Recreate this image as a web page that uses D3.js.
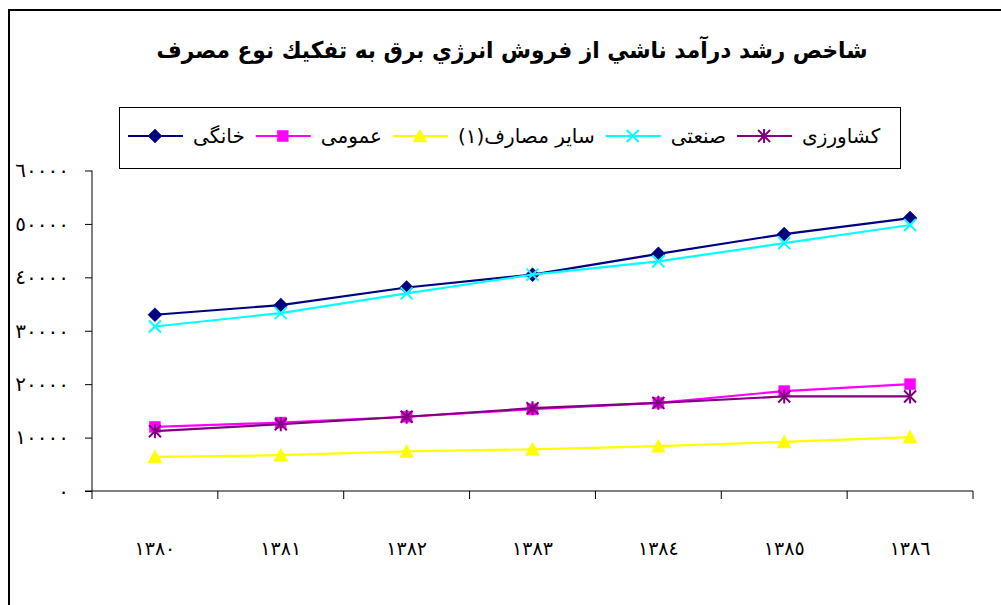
<!DOCTYPE html>
<html>
<head>
<meta charset="utf-8">
<script src="https://cdn.jsdelivr.net/npm/d3@7"></script>
<style>
  body { margin: 0; background: #fff; }
  svg { display: block; }
  text { font-family: "DejaVu Sans", "Liberation Serif", serif; }
</style>
</head>
<body>
<div id="chart"></div>
<script>
var years = ["١٣٨٠", "١٣٨١", "١٣٨٢", "١٣٨٣", "١٣٨٤", "١٣٨٥", "١٣٨٦"];

// series values
var khanegi    = [33000, 34800, 38100, 40500, 44400, 48100, 51100];
var omumi      = [12000, 12800, 13900, 15300, 16500, 18700, 20000];
var sayer      = [6400, 6700, 7400, 7800, 8400, 9200, 10100];
var sanati     = [30800, 33300, 37000, 40500, 43000, 46400, 49800];
var keshavarzi = [11200, 12500, 13900, 15500, 16500, 17700, 17700];

var yTicks = [0, 10000, 20000, 30000, 40000, 50000, 60000];
var title = "شاخص رشد درآمد ناشي از فروش انرژي برق به تفكيك نوع مصرف";

var series = [
    { name: "خانگی", values: khanegi, color: "#000080", marker: "diamond" },
    { name: "عمومی", values: omumi, color: "#ff00ff", marker: "square" },
    { name: "سایر مصارف(۱)", values: sayer, color: "#ffff00", marker: "triangle" },
    { name: "صنعتی", values: sanati, color: "#00ffff", marker: "cross" },
    { name: "کشاورزی", values: keshavarzi, color: "#800080", marker: "star" }
];

var width = 1001, height = 605;
var svg = d3.select("#chart").append("svg")
    .attr("width", width)
    .attr("height", height);

// outer frame (runs off the right and bottom edges)
svg.append("rect")
    .attr("x", 9).attr("y", 10)
    .attr("width", 1010).attr("height", 620)
    .attr("fill", "none")
    .attr("stroke", "#000")
    .attr("stroke-width", 2);

svg.append("text")
    .attr("x", 512).attr("y", 58)
    .attr("text-anchor", "middle")
    .attr("font-size", 23)
    .attr("font-weight", "bold")
    .attr("textLength", 711)
    .attr("lengthAdjust", "spacingAndGlyphs")
    .text(title);

var x = d3.scalePoint().domain(years).range([92, 973]).padding(0.5);
var y = d3.scaleLinear().domain([0, 60000]).range([491, 170.5]);

function toArabic(n) {
    return String(n).replace(/[0-9]/g, function(c) { return "٠١٢٣٤٥٦٧٨٩"[+c]; });
}

// y axis
var yAxis = svg.append("g")
    .attr("transform", "translate(92,0)")
    .call(d3.axisLeft(y).tickValues(yTicks).tickSize(7).tickPadding(16).tickFormat(toArabic));
yAxis.select(".domain").attr("stroke", "#000").attr("d", "M0," + y(0) + "V" + y(60000));
yAxis.selectAll(".tick line").attr("stroke", "#000");
yAxis.selectAll(".tick text")
    .attr("font-size", 20)
    .attr("fill", "#000")
    .style("letter-spacing", "1.5px")
    .style("font-family", "DejaVu Sans, serif");

// x axis
var xAxis = svg.append("g")
    .attr("transform", "translate(0,491)");
xAxis.append("line")
    .attr("x1", 85).attr("x2", 973)
    .attr("y1", 0).attr("y2", 0)
    .attr("stroke", "#000");
var step = x.step();
xAxis.selectAll("line.tk")
    .data(d3.range(years.length + 1))
    .enter()
    .append("line")
    .attr("class", "tk")
    .attr("x1", function(i) { return 92 + i * step; })
    .attr("x2", function(i) { return 92 + i * step; })
    .attr("y1", 0).attr("y2", 8)
    .attr("stroke", "#000");
xAxis.selectAll("text")
    .data(years)
    .enter()
    .append("text")
    .attr("x", function(d) { return x(d); })
    .attr("y", 64)
    .attr("text-anchor", "middle")
    .attr("font-size", 19)
    .text(function(d) { return d; });

function markerPath(type) {
    if (type == "diamond") return "M0,-7L7,0L0,7L-7,0Z";
    if (type == "square") return "M-5.5,-5.5H5.5V5.5H-5.5Z";
    if (type == "triangle") return "M0,-7L7,6H-7Z";
    if (type == "cross") return "M-6,-6L6,6M6,-6L-6,6";
    return "M-6,-6L6,6M6,-6L-6,6M0,-7V7";
}

function drawMarker(g, s, cx, cy) {
    var filled = (s.marker == "diamond" || s.marker == "square" || s.marker == "triangle");
    g.append("path")
        .attr("transform", "translate(" + cx + "," + cy + ")")
        .attr("d", markerPath(s.marker))
        .attr("fill", filled ? s.color : "none")
        .attr("stroke", s.color)
        .attr("stroke-width", filled ? 0.5 : 2);
}

var line = d3.line()
    .x(function(d, i) { return x(years[i]); })
    .y(function(d) { return y(d); });

series.forEach(function(s) {
    var g = svg.append("g");
    g.append("path")
        .attr("d", line(s.values))
        .attr("fill", "none")
        .attr("stroke", s.color)
        .attr("stroke-width", 2.2);
    s.values.forEach(function(v, i) {
        drawMarker(g, s, x(years[i]), y(v));
    });
});

// legend
var legend = svg.append("g");
legend.append("rect")
    .attr("x", 119.5).attr("y", 107.5)
    .attr("width", 781).attr("height", 61)
    .attr("fill", "#fff")
    .attr("stroke", "#000");

var lx = 128, ly = 136;
series.forEach(function(s) {
    var g = legend.append("g");
    g.append("line")
        .attr("x1", lx).attr("x2", lx + 55)
        .attr("y1", ly).attr("y2", ly)
        .attr("stroke", s.color)
        .attr("stroke-width", 2.2);
    drawMarker(g, s, lx + 27, ly);
    var t = g.append("text")
        .attr("x", lx + 65)
        .attr("y", ly + 7)
        .attr("font-size", 20)
        .text(s.name);
    lx = lx + 65 + t.node().getComputedTextLength() + 11;
});
</script>
</body>
</html>
